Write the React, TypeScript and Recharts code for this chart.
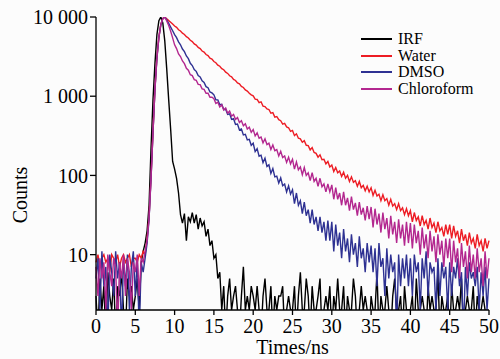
import { LineChart, Line, XAxis, YAxis } from 'recharts';

// TCSPC channel grid, 0.25 ns per point
const times = Array.from({ length: 201 }, (_, i) => i * 0.25);

const irf = [
  3, 1, 5, 2, 4, 1, 6, 3, 2, 5, 1, 4, 3, 6, 2, 1, 5, 3, 4, 2,
  3, 5, 2, 8, 11, 14, 20, 42, 220, 900, 2600, 6000, 9000, 10000, 8400, 5000, 2200, 900, 380, 150,
  120, 92, 60, 32, 25, 33, 15, 30, 26, 34, 25, 32, 21, 29, 23, 26, 17, 21, 13, 15,
  9, 10, 5, 6, 2, 4, 1, 3, 5, 2, 3, 4, 2, 1, 3, 7, 2, 3, 2, 4,
  3, 2, 4, 2, 1, 3, 5, 2, 2, 4, 1, 3, 2, 3, 3, 4, 1, 2, 3, 2,
  2, 4, 1, 3, 6, 2, 2, 5, 3, 1, 4, 2, 2, 3, 5, 1, 2, 3, 2, 4,
  1, 3, 2, 5, 2, 2, 4, 1, 3, 2, 2, 5, 3, 1, 2, 4, 2, 3, 2, 1,
  3, 2, 2, 6, 1, 3, 2, 2, 4, 2, 1, 3, 5, 2, 2, 3, 1, 4, 2, 2,
  2, 3, 1, 5, 2, 2, 3, 2, 1, 4, 2, 3, 2, 2, 6, 1, 3, 2, 2, 3,
  1, 4, 2, 2, 3, 2, 5, 1, 2, 3, 2, 2, 4, 1, 3, 2, 2, 3, 2, 1,
  2,
];

const water = [
  8, 10, 7, 9, 10, 8, 9, 6, 10, 9, 8, 10, 7, 9, 10, 8, 9, 10, 7, 9,
  9, 8, 10, 9, 11, 10, 16, 30, 95, 360, 1250, 3100, 5600, 8100, 9600, 10000, 9500, 9000, 8580, 8150,
  7700, 7400, 6900, 6650, 6250, 6020, 5640, 5430, 5080, 4900, 4580, 4420, 4130, 4000, 3720, 3610, 3360, 3260, 3020, 2940,
  2740, 2650, 2470, 2390, 2230, 2160, 2010, 1940, 1810, 1760, 1630, 1580, 1470, 1430, 1330, 1290, 1200, 1160, 1090, 1040,
  1010, 920, 910, 830, 850, 750, 740, 690, 680, 610, 620, 545, 555, 505, 490, 445, 455, 410, 400, 360,
  370, 318, 335, 295, 290, 262, 275, 240, 238, 210, 225, 195, 190, 170, 182, 158, 160, 140, 150, 128,
  135, 112, 126, 108, 114, 97, 110, 92, 100, 84, 96, 82, 86, 73, 84, 70, 75, 64, 73, 62,
  70, 56, 65, 55, 58, 48, 57, 48, 51, 42, 50, 41, 44, 37, 44, 36, 39, 32, 38, 31,
  36, 26, 34, 27, 30, 23, 31, 24, 27, 21, 29, 22, 25, 19, 26, 20, 22, 17, 24, 18,
  24, 16, 23, 17, 20, 14, 21, 15, 18, 13, 19, 14, 16, 12, 18, 13, 15, 11, 16, 12,
  15,
];

const dmso = [
  5, 9, 2, 11, 4, 7, 1, 10, 6, 3, 11, 5, 8, 1, 9, 4, 10, 2, 7, 11,
  3, 9, 1, 8, 6, 9, 14, 28, 90, 340, 1200, 3000, 5500, 8000, 9500, 10000, 9200, 8300, 7450, 6700,
  6000, 5480, 4850, 4460, 3940, 3650, 3220, 2980, 2600, 2440, 2170, 2060, 1820, 1750, 1560, 1490, 1320, 1280, 1130, 1100,
  1040, 900, 900, 780, 790, 680, 685, 590, 600, 510, 520, 440, 445, 375, 385, 325, 330, 280, 285, 240,
  255, 200, 218, 175, 180, 145, 165, 130, 136, 106, 122, 96, 98, 80, 93, 74, 78, 62, 74, 58,
  66, 44, 60, 42, 48, 33, 46, 31, 37, 25, 37, 24, 30, 20, 30, 19, 26, 15, 27, 15,
  26, 11, 24, 13, 19, 9, 21, 11, 16, 8, 18, 10, 14, 7, 17, 9, 12, 6, 14, 8,
  13, 6, 12, 4, 14, 7, 9, 3, 12, 5, 10, 6, 8, 1, 10, 4, 9, 5, 10, 4,
  9, 3, 10, 6, 8, 2, 9, 5, 11, 3, 8, 6, 7, 2, 9, 3, 8, 5, 7, 2,
  8, 3, 7, 5, 9, 4, 6, 1, 7, 3, 8, 5, 6, 4, 7, 2, 6, 3, 7, 2,
  5,
];

const chloroform = [
  7, 3, 9, 5, 8, 2, 10, 6, 4, 9, 7, 1, 8, 5, 10, 3, 9, 6, 2, 8,
  6, 10, 3, 9, 8, 11, 15, 29, 92, 350, 1220, 3050, 5550, 8050, 9550, 10000, 8900, 7800, 6600, 5450,
  4450, 3990, 3420, 3170, 2790, 2580, 2250, 2130, 1870, 1820, 1620, 1590, 1410, 1400, 1240, 1220, 1090, 1090, 970, 970,
  930, 810, 840, 730, 780, 670, 710, 610, 650, 560, 590, 510, 540, 465, 490, 425, 450, 385, 405, 350,
  380, 315, 345, 295, 305, 258, 290, 245, 255, 212, 242, 205, 212, 176, 202, 168, 176, 146, 170, 140,
  160, 120, 148, 118, 128, 102, 126, 100, 108, 86, 108, 84, 92, 73, 92, 72, 78, 62, 78, 62,
  76, 50, 70, 50, 60, 42, 62, 42, 52, 36, 54, 37, 45, 31, 46, 32, 39, 27, 41, 28,
  40, 22, 38, 24, 33, 19, 34, 21, 29, 16, 31, 18, 26, 14, 28, 16, 24, 13, 26, 14,
  25, 12, 24, 14, 20, 10, 22, 12, 18, 9, 20, 11, 17, 8, 18, 10, 15, 7, 16, 9,
  16, 6, 15, 8, 12, 5, 14, 7, 11, 5, 13, 6, 10, 5, 12, 6, 9, 4, 11, 5,
  9,
];

const series = [
  { key: 'irf', name: 'IRF', color: '#000000' },
  { key: 'water', name: 'Water', color: '#ed1c24' },
  { key: 'dmso', name: 'DMSO', color: '#2e3192' },
  { key: 'chloroform', name: 'Chloroform', color: '#b3278f' },
];

const xTicks = [0, 5, 10, 15, 20, 25, 30, 35, 40, 45, 50];
const yTicks = [10, 100, 1000, 10000];
const yTickLabels: Record<number, string> = { 10: '10', 100: '100', 1000: '1 000', 10000: '10 000' };

const data = times.map((t, i) => ({
  t,
  irf: irf[i],
  water: water[i],
  dmso: dmso[i],
  chloroform: chloroform[i],
}));

const FONT = "'Liberation Serif', 'Times New Roman', serif";
const tickStyle = { fontSize: 20, fill: '#000', fontFamily: FONT };

export default function App() {
  return (
    <div
      style={{
        position: 'absolute',
        left: 0,
        top: 0,
        width: 500,
        height: 359,
        background: '#fcfcfc',
        fontFamily: FONT,
      }}
    >
      <LineChart width={500} height={359} data={data} margin={{ top: 17, right: 11, bottom: 0, left: 0 }}>
        <XAxis
          dataKey="t"
          type="number"
          domain={[0, 50]}
          ticks={xTicks}
          interval={0}
          tickSize={5}
          tickMargin={4}
          height={49}
          stroke="#000"
          strokeWidth={1.3}
          tick={tickStyle}
          label={{ value: 'Times/ns', position: 'insideBottom', offset: 5, style: { fontSize: 20, fill: '#000', fontFamily: FONT } }}
        />
        <XAxis xAxisId="top" orientation="top" type="number" domain={[0, 50]} height={0} tick={false} tickLine={false} stroke="#000" strokeWidth={1.3} />
        <YAxis
          scale="log"
          type="number"
          domain={[2, 10000]}
          allowDataOverflow
          ticks={yTicks}
          interval={0}
          width={96}
          tickSize={6}
          tickMargin={2}
          stroke="#000"
          strokeWidth={1.3}
          tick={tickStyle}
          tickFormatter={(v: number) => yTickLabels[v] ?? String(v)}
        />
        <YAxis yAxisId="right" orientation="right" scale="log" type="number" domain={[2, 10000]} width={0} tick={false} tickLine={false} stroke="#000" strokeWidth={1.3} />
        {series.map((s) => (
          <Line
            key={s.key}
            dataKey={s.key}
            name={s.name}
            type="linear"
            stroke={s.color}
            strokeWidth={1.4}
            dot={false}
            activeDot={false}
            isAnimationActive={false}
          />
        ))}
      </LineChart>

      {/* y axis title */}
      <div
        style={{
          position: 'absolute',
          left: 20,
          top: 195,
          transform: 'translate(-50%, -50%) rotate(-90deg)',
          fontSize: 20,
          fontFamily: FONT,
          whiteSpace: 'nowrap',
          color: '#000',
        }}
      >
        Counts
      </div>

      {/* legend */}
      <div style={{ position: 'absolute', left: 361, top: 31 }}>
        {series.map((s) => (
          <div key={s.key} style={{ display: 'flex', alignItems: 'center', height: 16.5 }}>
            <div style={{ width: 31, height: 2, background: s.color, marginRight: 6 }} />
            <span style={{ fontSize: 16, lineHeight: '16px', color: '#000', fontFamily: FONT }}>{s.name}</span>
          </div>
        ))}
      </div>
    </div>
  );
}
